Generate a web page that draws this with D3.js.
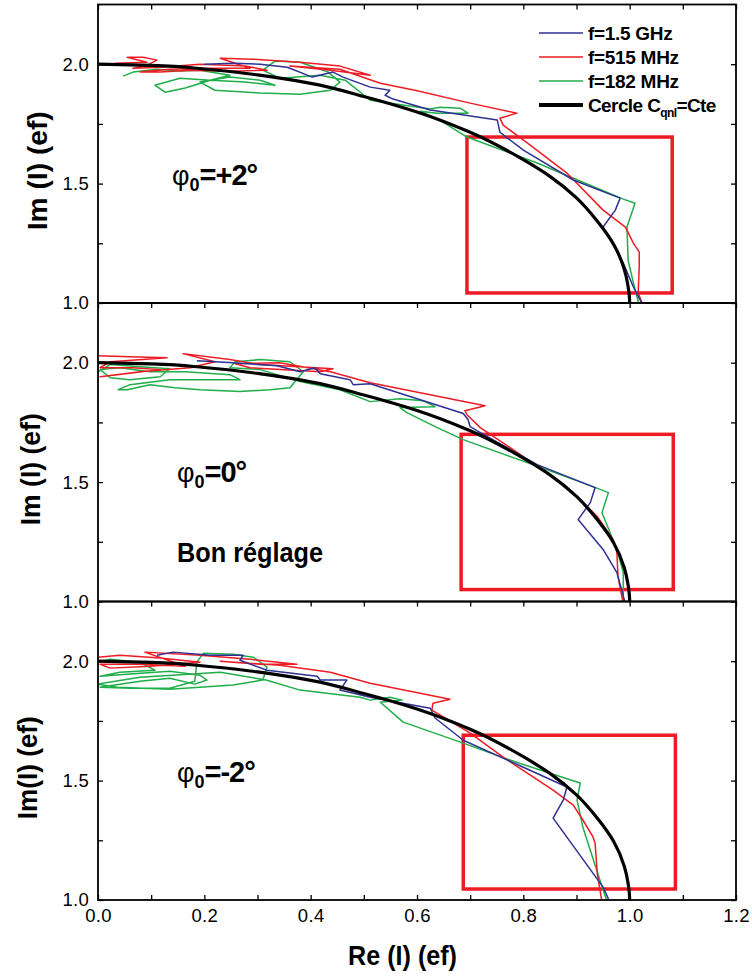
<!DOCTYPE html>
<html><head><meta charset="utf-8">
<script src="https://cdn.jsdelivr.net/npm/d3@7"></script>
<style>
body{margin:0;background:#fff}
svg{display:block}
text{font-family:"Liberation Sans",Arial,Helvetica,sans-serif;fill:#000}
</style>
</head><body>
<svg id="chart" width="752" height="976"></svg>
<script>
// ---------- data ----------
const seriesNames = ["f=1.5 GHz", "f=515 MHz", "f=182 MHz"];
const seriesColors = ["#2e3192", "#ed1c24", "#1fae4a"];
const circleName = "Cercle C";
const xMajorTicks = [0, 0.2, 0.4, 0.6, 0.8, 1.0, 1.2];
const xMinorTicks = [0.1, 0.3, 0.5, 0.7, 0.9, 1.1];
const yMajorTicks = [1.0, 1.5, 2.0];
const yMinorTicks = [1.25, 1.75];
const phiValues = ["=+2°", "=0°", "=-2°"];
const yTitles = ["Im (I) (ef)", "Im (I) (ef)", "Im(I) (ef)"];

// black circle C_qnl = Cte
const circle = [[0,2.0],[0.1,1.995],[0.2,1.98],[0.3,1.955],[0.4,1.92],[0.5,1.865],[0.6,1.80],[0.7,1.715],[0.8,1.60],[0.85,1.53],[0.9,1.44],[0.94,1.34],[0.97,1.245],[0.99,1.14],[0.997,1.07],[1.0,1.0],[1.0,0.95]];

// panel 1 : phi0 = +2°
const p1Blue = [[0.20,2.0],[0.254,2.004],[0.305,2.0],[0.356,1.987],[0.403,1.946],[0.442,1.967],[0.461,1.946],[0.512,1.904],[0.549,1.891],[0.540,1.870],[0.555,1.854],[0.625,1.808],[0.751,1.766],[0.756,1.715],[0.800,1.640],[0.894,1.515],[0.982,1.439],[0.973,1.389],[0.950,1.318],[0.988,1.167],[1.007,1.067],[1.025,0.99]];
const p1Red = [[0.032,2.004],[0.092,2.008],[0.055,2.029],[0.085,2.029],[0.111,2.017],[0.092,1.996],[0.066,1.983],[0.117,1.987],[0.192,2.0],[0.277,1.992],[0.318,1.975],[0.248,1.971],[0.173,1.975],[0.117,1.967],[0.079,1.967],[0.135,1.979],[0.211,1.983],[0.286,1.983],[0.230,2.025],[0.292,2.021],[0.380,2.008],[0.455,1.992],[0.512,1.954],[0.437,1.975],[0.361,1.992],[0.455,1.979],[0.531,1.920],[0.596,1.891],[0.700,1.837],[0.788,1.795],[0.756,1.774],[0.762,1.745],[0.813,1.661],[0.882,1.544],[0.950,1.389],[0.992,1.318],[1.007,1.251],[1.018,1.213],[1.018,1.151],[1.016,1.042],[1.025,0.99]];
const p1Green = [[0.047,1.950],[0.066,1.967],[0.111,1.979],[0.154,1.971],[0.192,1.975],[0.248,1.954],[0.211,1.933],[0.154,1.941],[0.107,1.912],[0.126,1.883],[0.164,1.900],[0.211,1.933],[0.277,1.925],[0.333,1.912],[0.305,1.933],[0.248,1.946],[0.192,1.925],[0.220,1.891],[0.305,1.879],[0.380,1.874],[0.437,1.891],[0.455,1.925],[0.433,1.967],[0.380,2.008],[0.333,2.013],[0.310,1.975],[0.342,1.941],[0.418,1.954],[0.465,1.933],[0.512,1.849],[0.625,1.812],[0.643,1.820],[0.681,1.816],[0.696,1.795],[0.638,1.795],[0.606,1.803],[0.643,1.766],[0.694,1.695],[0.826,1.586],[0.988,1.435],[1.010,1.418],[0.995,1.318],[0.997,1.180],[1.007,1.084],[1.018,0.99]];

// panel 2 : phi0 = 0°
const p2Blue = [[0.186,2.008],[0.254,2.0],[0.337,1.987],[0.380,1.962],[0.408,1.979],[0.418,1.954],[0.474,1.929],[0.480,1.908],[0.512,1.912],[0.687,1.787],[0.696,1.762],[0.700,1.732],[0.719,1.707],[0.826,1.573],[0.935,1.477],[0.926,1.414],[0.903,1.343],[0.950,1.218],[0.976,1.121],[0.992,0.99]];
const p2Red = [[0.0,2.029],[0.060,2.025],[0.130,2.021],[0.023,2.004],[0.004,1.979],[0.066,1.979],[0.117,1.971],[0.036,1.950],[0.004,1.941],[0.079,1.962],[0.173,1.979],[0.220,2.004],[0.160,2.038],[0.248,2.013],[0.305,1.992],[0.442,1.975],[0.418,1.962],[0.286,1.979],[0.258,1.996],[0.342,2.0],[0.437,1.962],[0.512,1.916],[0.728,1.820],[0.690,1.799],[0.694,1.782],[0.719,1.728],[0.800,1.607],[0.864,1.510],[0.907,1.427],[0.939,1.356],[0.969,1.259],[0.976,1.205],[0.978,1.105],[0.988,0.99]];
const p2Green = [[0.0,1.962],[0.023,1.992],[0.079,1.983],[0.135,1.975],[0.117,1.941],[0.060,1.929],[0.023,1.937],[0.004,1.971],[0.041,1.979],[0.098,1.962],[0.164,1.962],[0.248,1.950],[0.267,1.929],[0.192,1.929],[0.135,1.929],[0.060,1.908],[0.038,1.887],[0.055,1.887],[0.098,1.908],[0.145,1.895],[0.192,1.887],[0.267,1.879],[0.324,1.887],[0.361,1.895],[0.386,1.962],[0.361,2.004],[0.305,2.013],[0.258,2.004],[0.248,1.979],[0.305,1.971],[0.380,1.921],[0.455,1.887],[0.512,1.837],[0.568,1.849],[0.611,1.841],[0.634,1.816],[0.568,1.812],[0.581,1.791],[0.638,1.728],[0.687,1.678],[0.818,1.573],[0.931,1.481],[0.960,1.456],[0.948,1.372],[0.976,1.218],[0.988,1.121],[0.988,0.99]];

// panel 3 : phi0 = -2°
const p3Blue = [[0.111,2.025],[0.141,2.038],[0.211,2.025],[0.273,2.025],[0.267,2.004],[0.318,1.962],[0.412,1.937],[0.418,1.921],[0.468,1.921],[0.455,1.879],[0.512,1.849],[0.625,1.803],[0.634,1.762],[0.687,1.669],[0.800,1.556],[0.882,1.473],[0.875,1.418],[0.856,1.343],[0.950,1.054],[0.963,0.99]];
const p3Red = [[0.0,2.017],[0.041,2.025],[0.117,2.013],[0.192,1.996],[0.098,1.979],[0.023,1.971],[0.004,1.987],[0.079,1.987],[0.164,1.979],[0.088,2.038],[0.192,2.025],[0.286,2.008],[0.374,1.987],[0.305,1.987],[0.230,2.0],[0.342,1.983],[0.437,1.954],[0.512,1.908],[0.662,1.841],[0.630,1.824],[0.628,1.795],[0.700,1.699],[0.762,1.598],[0.856,1.460],[0.894,1.397],[0.912,1.335],[0.931,1.264],[0.935,1.238],[0.939,1.113],[0.948,0.99]];
const p3Green = [[0.0,1.996],[0.023,2.008],[0.079,1.996],[0.107,1.962],[0.041,1.954],[0.004,1.937],[0.060,1.946],[0.135,1.958],[0.192,1.941],[0.205,1.921],[0.182,1.904],[0.135,1.929],[0.079,1.916],[0.032,1.900],[0.004,1.891],[0.060,1.887],[0.135,1.887],[0.182,1.916],[0.186,1.996],[0.198,2.033],[0.254,2.029],[0.292,2.017],[0.318,1.975],[0.310,1.921],[0.254,1.900],[0.135,1.883],[0.036,1.891],[0.0,1.904],[0.079,1.933],[0.230,1.954],[0.316,1.921],[0.380,1.879],[0.493,1.849],[0.512,1.837],[0.549,1.849],[0.572,1.837],[0.531,1.828],[0.574,1.745],[0.687,1.657],[0.775,1.586],[0.850,1.531],[0.907,1.490],[0.901,1.418],[0.912,1.305],[0.944,1.084],[0.958,0.99]];

// red zoom boxes [x0, x1, yLow, yHigh]
const boxes = [[0.694,1.080,1.042,1.695],[0.683,1.082,1.050,1.700],[0.687,1.086,1.046,1.690]];

// ---------- layout ----------
const svg = d3.select("#chart");
const X0 = 98, X1 = 736;
const panelTops = [4.5, 303, 601.5];
const panelH = 298.5;
const x = d3.scaleLinear().domain([0, 1.2]).range([X0, X1]);

const panelSeries = [[p1Blue, p1Red, p1Green],[p2Blue, p2Red, p2Green],[p3Blue, p3Red, p3Green]];
const titleX = [47, 40, 37];
const titleLen = [119, 112, 103];
const phiBase = [185, 482, 782];

panelTops.forEach((top, i) => {
  const bottom = top + panelH;
  const y = d3.scaleLinear().domain([1, 2.25]).range([bottom, top]);
  const g = svg.append("g");
  const clipId = "clip" + i;
  svg.append("clipPath").attr("id", clipId).append("rect")
    .attr("x", X0).attr("y", top).attr("width", X1 - X0).attr("height", panelH);

  const line = d3.line().x(d => x(d[0])).y(d => y(d[1]));
  const plot = g.append("g").attr("clip-path", `url(#${clipId})`);

  // red rectangle
  const b = boxes[i];
  plot.append("rect")
    .attr("x", x(b[0])).attr("y", y(b[3]))
    .attr("width", x(b[1]) - x(b[0])).attr("height", y(b[2]) - y(b[3]))
    .attr("fill", "none").attr("stroke", "#ed1c24").attr("stroke-width", 3.5);

  // measured series (green drawn first, then red, then blue)
  const order = [2, 1, 0];
  order.forEach(k => {
    plot.append("path").datum(panelSeries[i][k])
      .attr("d", line).attr("fill", "none")
      .attr("stroke", seriesColors[k]).attr("stroke-width", 1.5)
      .attr("stroke-linejoin", "round");
  });
  // circle
  plot.append("path").datum(circle).attr("d", d3.line().curve(d3.curveMonotoneY).x(d => x(d[0])).y(d => y(d[1])))
    .attr("fill", "none").attr("stroke", "#000").attr("stroke-width", 3.2);

  // axes
  const axStyle = sel => { sel.select(".domain").remove(); sel.selectAll("line").attr("stroke", "#000").attr("stroke-width", 1.3); sel.selectAll("text").attr("font-size", 18.5).attr("font-family", "Liberation Sans, Arial, sans-serif").attr("letter-spacing", 0.3).attr("fill", "#000"); };
  g.append("g").attr("transform", `translate(${X0},0)`)
    .call(d3.axisLeft(y).tickValues(yMajorTicks).tickSizeInner(-5).tickSizeOuter(0).tickPadding(9).tickFormat(d3.format(".1f")))
    .call(axStyle);
  g.append("g").attr("transform", `translate(${X0},0)`)
    .call(d3.axisLeft(y).tickValues(yMinorTicks).tickSizeInner(-5).tickSizeOuter(0).tickFormat(""))
    .call(axStyle);
  g.append("g").attr("transform", `translate(${X1},0)`)
    .call(d3.axisRight(y).tickValues(yMajorTicks.concat(yMinorTicks)).tickSizeInner(-5).tickSizeOuter(0).tickFormat(""))
    .call(axStyle);
  g.append("g").attr("transform", `translate(0,${top})`)
    .call(d3.axisTop(x).tickValues(xMajorTicks.concat(xMinorTicks)).tickSizeInner(-5).tickSizeOuter(0).tickFormat(""))
    .call(axStyle);
  if (i === 2) {
    g.append("g").attr("transform", `translate(0,${bottom})`)
      .call(d3.axisBottom(x).tickValues(xMajorTicks).tickSizeInner(-5).tickSizeOuter(0).tickPadding(9).tickFormat(d3.format(".1f")))
      .call(axStyle);
    g.append("g").attr("transform", `translate(0,${bottom})`)
      .call(d3.axisBottom(x).tickValues(xMinorTicks).tickSizeInner(-5).tickSizeOuter(0).tickFormat(""))
      .call(axStyle);
  }
  // frame
  g.append("rect").attr("x", X0).attr("y", top).attr("width", X1 - X0).attr("height", panelH)
    .attr("fill", "none").attr("stroke", "#000").attr("stroke-width", 1.8);

  // y title
  g.append("text").attr("transform", `translate(${titleX[i]},${top + panelH / 2 + 17}) rotate(-90)`)
    .attr("text-anchor", "middle").attr("font-size", 27).attr("font-weight", "bold")
    .attr("textLength", titleLen[i]).attr("lengthAdjust", "spacingAndGlyphs")
    .text(yTitles[i]);

  // phi annotation
  const t = g.append("text").attr("x", 172 + (i ? 5 : 0)).attr("y", phiBase[i]);
  t.append("tspan").attr("font-size", 27).text("φ");
  t.append("tspan").attr("font-size", 18).attr("font-weight", "bold").attr("dy", 6).text("0");
  t.append("tspan").attr("font-size", 29).attr("font-weight", "bold").attr("dy", -6).attr("letter-spacing", -1).text(phiValues[i]);
});

// "Bon réglage"
svg.append("text").attr("x", 177).attr("y", 562).attr("font-size", 28).attr("font-weight", "bold")
  .attr("textLength", 146).attr("lengthAdjust", "spacingAndGlyphs").text("Bon réglage");

// x title
svg.append("text").attr("x", 402.5).attr("y", 965).attr("text-anchor", "middle")
  .attr("font-size", 28).attr("font-weight", "bold")
  .attr("textLength", 109).attr("lengthAdjust", "spacingAndGlyphs").text("Re (I) (ef)");

// legend
const legendRows = seriesNames.map((n, k) => ({name: n, color: seriesColors[k], w: 1.6}));
const lg = svg.append("g");
const rowY = [33, 57, 81, 105];
legendRows.forEach((r, k) => {
  lg.append("line").attr("x1", 539).attr("x2", 583).attr("y1", rowY[k]).attr("y2", rowY[k])
    .attr("stroke", r.color).attr("stroke-width", r.w);
  lg.append("text").attr("x", 588).attr("y", rowY[k] + 7).attr("font-size", 19).attr("font-weight", "bold")
    .attr("letter-spacing", -0.3).text(r.name);
});
lg.append("line").attr("x1", 539).attr("x2", 583).attr("y1", rowY[3]).attr("y2", rowY[3])
  .attr("stroke", "#000").attr("stroke-width", 4);
const ct = lg.append("text").attr("x", 588).attr("y", rowY[3] + 7).attr("font-size", 19).attr("font-weight", "bold").attr("letter-spacing", -0.6);
ct.append("tspan").text(circleName);
ct.append("tspan").attr("font-size", 12).attr("dy", 5).text("qnl");
ct.append("tspan").attr("dy", -5).text("=Cte");
</script>
</body></html>
